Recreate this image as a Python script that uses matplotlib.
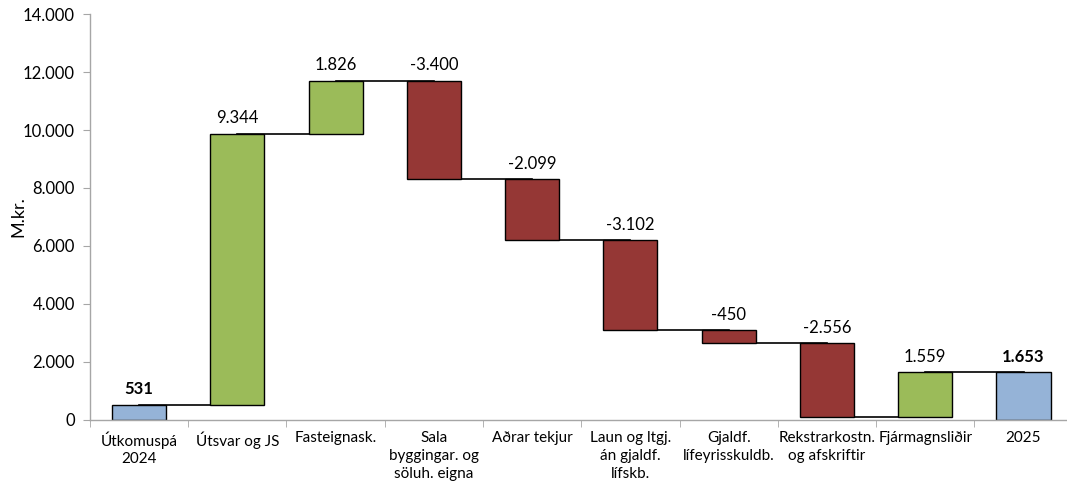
import matplotlib
matplotlib.use("Agg")
import matplotlib.pyplot as plt
import numpy as np

plt.rcParams['font.family'] = ['Lato', 'DejaVu Sans']

categories = ["Útkomuspá\n2024", "Útsvar og JS", "Fasteignask.",
              "Sala\nbyggingar. og\nsöluh. eigna", "Aðrar tekjur",
              "Laun og ltgj.\nán gjaldf.\nlífskb.", "Gjaldf.\nlífeyrisskuldb.",
              "Rekstrarkostn.\nog afskriftir", "Fjármagnsliðir", "2025"]
changes = [531, 9344, 1826, -3400, -2099, -3102, -450, -2556, 1559, 1653]
kinds = ["total", "delta", "delta", "delta", "delta", "delta", "delta", "delta", "delta", "total"]
yticks = [0, 2000, 4000, 6000, 8000, 10000, 12000, 14000]

colors = {"total": "#95B3D7", "up": "#9BBB59", "down": "#953735"}

def fmt(v):
    s = f"{abs(v):,}".replace(",", ".")
    return ("-" if v < 0 else "") + s

fig = plt.figure(figsize=(10.67, 4.9), dpi=100)
ax = fig.add_axes([0.0843, 0.1429, 0.921, 0.8285])

x = np.arange(len(categories))
bottoms, heights, cols, levels = [], [], [], []
running = 0
for v, k in zip(changes, kinds):
    if k == "total":
        running = v
        bottoms.append(0); heights.append(v); cols.append(colors["total"])
    else:
        start = running
        running = running + v
        bottoms.append(min(start, running)); heights.append(abs(v))
        cols.append(colors["up"] if v > 0 else colors["down"])
    levels.append(running)

# connectors between consecutive bars
for i in range(len(x) - 1):
    ax.plot([x[i], x[i + 1]], [levels[i], levels[i]], color="black", lw=1.2, zorder=1)

ax.bar(x, heights, bottom=bottoms, width=0.55, color=cols, edgecolor="black", linewidth=1.0, zorder=2)

for i, (v, k) in enumerate(zip(changes, kinds)):
    top = bottoms[i] + heights[i]
    ax.text(x[i], top + 250, fmt(v), ha="center", va="bottom", fontsize=12,
            fontweight="bold" if k == "total" else "normal", color="black")

ax.set_xlim(-0.5, len(x) - 0.5)
ax.set_ylim(0, 14000)
ax.set_yticks(yticks)
ax.set_yticklabels([fmt(t) for t in yticks], fontsize=12)
ax.set_xticks(x)
ax.set_xticklabels(categories, fontsize=11, linespacing=1.35)
ax.set_xticks(np.arange(-0.5, len(x), 1.0), minor=True)
ax.tick_params(axis="x", which="major", length=0, pad=8)
ax.tick_params(axis="x", which="minor", length=5, color="#A6A6A6", direction="out")
ax.tick_params(axis="y", length=5, color="#A6A6A6", direction="out", pad=6)
ax.set_ylabel("M.kr.", fontsize=13)
ax.yaxis.set_label_coords(-0.065, 0.5)

for s in ["top", "right"]:
    ax.spines[s].set_visible(False)
for s in ["left", "bottom"]:
    ax.spines[s].set_color("#A6A6A6")
    ax.spines[s].set_linewidth(1.0)

fig.savefig("out.png", dpi=100)
